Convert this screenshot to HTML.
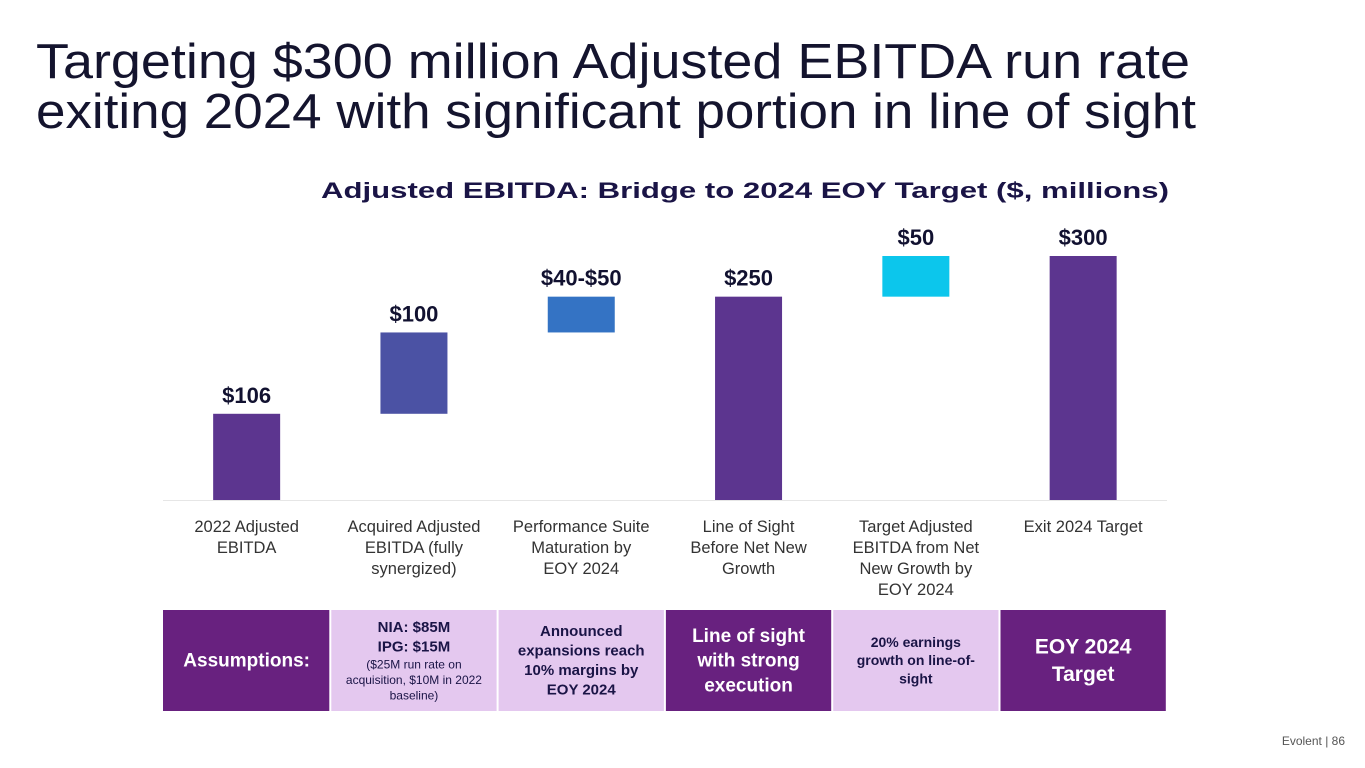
<!DOCTYPE html>
<html><head><meta charset="utf-8"><style>
html,body{margin:0;padding:0;background:#fff;}
svg{display:block;font-family:"Liberation Sans",sans-serif;}
</style></head><body>
<svg id="s" width="1365" height="768" viewBox="0 0 1365 768">
<text x="36" y="78" font-size="49" fill="#14142e" textLength="1154" lengthAdjust="spacingAndGlyphs">Targeting $300 million Adjusted EBITDA run rate</text>
<text x="36" y="128" font-size="49" fill="#14142e" textLength="1160" lengthAdjust="spacingAndGlyphs">exiting 2024 with significant portion in line of sight</text>
<text x="745" y="198" font-size="22" font-weight="bold" fill="#1a1446" text-anchor="middle" textLength="848" lengthAdjust="spacingAndGlyphs">Adjusted EBITDA: Bridge to 2024 EOY Target ($, millions)</text>
<line x1="163" y1="500.5" x2="1167" y2="500.5" stroke="#e6e6e6" stroke-width="1"/>
<g id="bars"></g>
<g id="cats"></g>
<g id="table"></g>
<text x="1345" y="745" font-size="12" fill="#555" text-anchor="end">Evolent  |  86</text>
</svg>
<script>
const categories=[["2022 Adjusted","EBITDA"],["Acquired Adjusted","EBITDA (fully","synergized)"],["Performance Suite","Maturation by","EOY 2024"],["Line of Sight","Before Net New","Growth"],["Target Adjusted","EBITDA from Net","New Growth by","EOY 2024"],["Exit 2024 Target"]];
const barStarts=[0,106,206,0,250,0];
const barEnds=[106,206,250,250,300,300];
const valueLabels=["$106","$100","$40-$50","$250","$50","$300"];
const colors=["#5c358f","#4b52a4","#3473c4","#5c358f","#0cc6ec","#5c358f"];
const x0=163,bw=167.3,barW=67,y0=500,k=244/300;
const X=i=>x0+bw*i+bw/2, Y=v=>y0-v*k;
const NS="http://www.w3.org/2000/svg";
function mk(t,a,p){const e=document.createElementNS(NS,t);for(const q in a)e.setAttribute(q,a[q]);p.appendChild(e);return e;}
const bars=document.getElementById('bars'),cats=document.getElementById('cats'),tbl=document.getElementById('table');
categories.forEach((c,i)=>{
 const top=Y(barEnds[i]),bot=Y(barStarts[i]);
 const r=mk('rect',{x:X(i)-barW/2,y:top,width:barW,height:bot-top,fill:colors[i]},bars);
 
 
 const t=mk('text',{x:X(i),y:top-11,'font-size':22,'font-weight':'bold',fill:'#111130','text-anchor':'middle'},bars);
 t.textContent=valueLabels[i];
 
 
 c.forEach((l,j)=>{
  const ct=mk('text',{x:X(i),y:532+j*21,'font-size':16.5,fill:'#333','text-anchor':'middle'},cats);
  ct.textContent=l;
  
  
 });
});
const cells=[
 {bg:"#68217f",lines:[["Assumptions:",19,"#fff",1]]},
 {bg:"#e4c8ef",lines:[["NIA: $85M",15,"#1a1446",1],["IPG: $15M",15,"#1a1446",1],["($25M run rate on",12,"#1a1446",0],["acquisition, $10M in 2022",12,"#1a1446",0],["baseline)",12,"#1a1446",0]]},
 {bg:"#e4c8ef",lines:[["Announced",15,"#1a1446",1],["expansions reach",15,"#1a1446",1],["10% margins by",15,"#1a1446",1],["EOY 2024",15,"#1a1446",1]]},
 {bg:"#68217f",lines:[["Line of sight",19,"#fff",1],["with strong",19,"#fff",1],["execution",19,"#fff",1]]},
 {bg:"#e4c8ef",lines:[["20% earnings",14,"#1a1446",1],["growth on line-of-",14,"#1a1446",1],["sight",14,"#1a1446",1]]},
 {bg:"#68217f",lines:[["EOY 2024",21,"#fff",1],["Target",21,"#fff",1]]}
];
cells.forEach((c,i)=>{
 const r=mk('rect',{x:x0+bw*i+(i?1:0),y:610,width:bw-(i?2:1),height:101,fill:c.bg},tbl);
 
 
 const hs=c.lines.map(l=>l[1]*1.3);const tot=hs.reduce((a,b)=>a+b,0);
 let y=660.5-tot/2;
 c.lines.forEach((l,j)=>{
  y+=hs[j];
  const t=mk('text',{x:X(i),y:y-hs[j]*0.25,'font-size':l[1],'font-weight':l[3]?'bold':'normal',fill:l[2],'text-anchor':'middle'},tbl);
  t.textContent=l[0];
  
  
 });
});
</script>
</body></html>
